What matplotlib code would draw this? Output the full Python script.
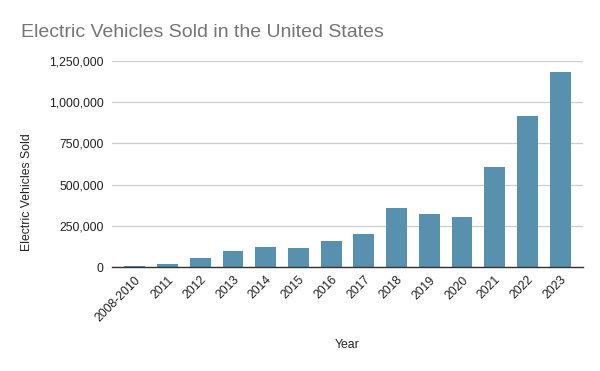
import matplotlib
matplotlib.use('Agg')
import matplotlib.pyplot as plt
from matplotlib.ticker import FuncFormatter

plt.rcParams['font.family'] = ['Liberation Sans', 'DejaVu Sans']

# Data
years = ['2008-2010', '2011', '2012', '2013', '2014', '2015', '2016',
         '2017', '2018', '2019', '2020', '2021', '2022', '2023']
ev_sold = [8000, 18000, 54000, 97000, 120000, 115000, 158000,
           200000, 360000, 323000, 305000, 607000, 917000, 1185000]
y_ticks = [0, 250000, 500000, 750000, 1000000, 1250000]

bar_color = '#5891ad'

fig = plt.figure(figsize=(6, 3.71), dpi=100)
ax = fig.add_axes([112 / 600, 1 - 267 / 371, 471 / 600, 206 / 371])

x = range(len(years))
ax.bar(x, ev_sold, width=0.64, color=bar_color, zorder=3)

ax.set_ylim(0, 1250000)
ax.set_xlim(-0.7, len(years) - 0.3)
ax.set_yticks(y_ticks)
ax.yaxis.set_major_formatter(FuncFormatter(lambda v, p: f'{int(v):,}'))
ax.set_xticks(list(x))
ax.set_xticklabels(years, rotation=45, ha='right', rotation_mode='anchor')

ax.grid(axis='y', color='#cccccc', linewidth=0.9, zorder=0)
for s in ['top', 'right', 'left']:
    ax.spines[s].set_visible(False)
ax.spines['bottom'].set_color('#333333')
ax.spines['bottom'].set_linewidth(1)
ax.spines['bottom'].set_zorder(4)
ax.tick_params(axis='both', length=0, labelsize=8.8, colors='#222222')
ax.tick_params(axis='y', pad=6)
ax.tick_params(axis='x', pad=5)

fig.text(21 / 600, 1 - 37 / 371, 'Electric Vehicles Sold in the United States',
         fontsize=14, color='#757575', ha='left', va='baseline')
fig.text(27 / 600, 1 - 192 / 371, 'Electric Vehicles Sold', rotation=90,
         fontsize=8.8, color='#222222', ha='center', va='center')
fig.text(347 / 600, 1 - 345 / 371, 'Year', fontsize=8.8, color='#222222',
         ha='center', va='center')

fig.savefig('out.png', dpi=100)
